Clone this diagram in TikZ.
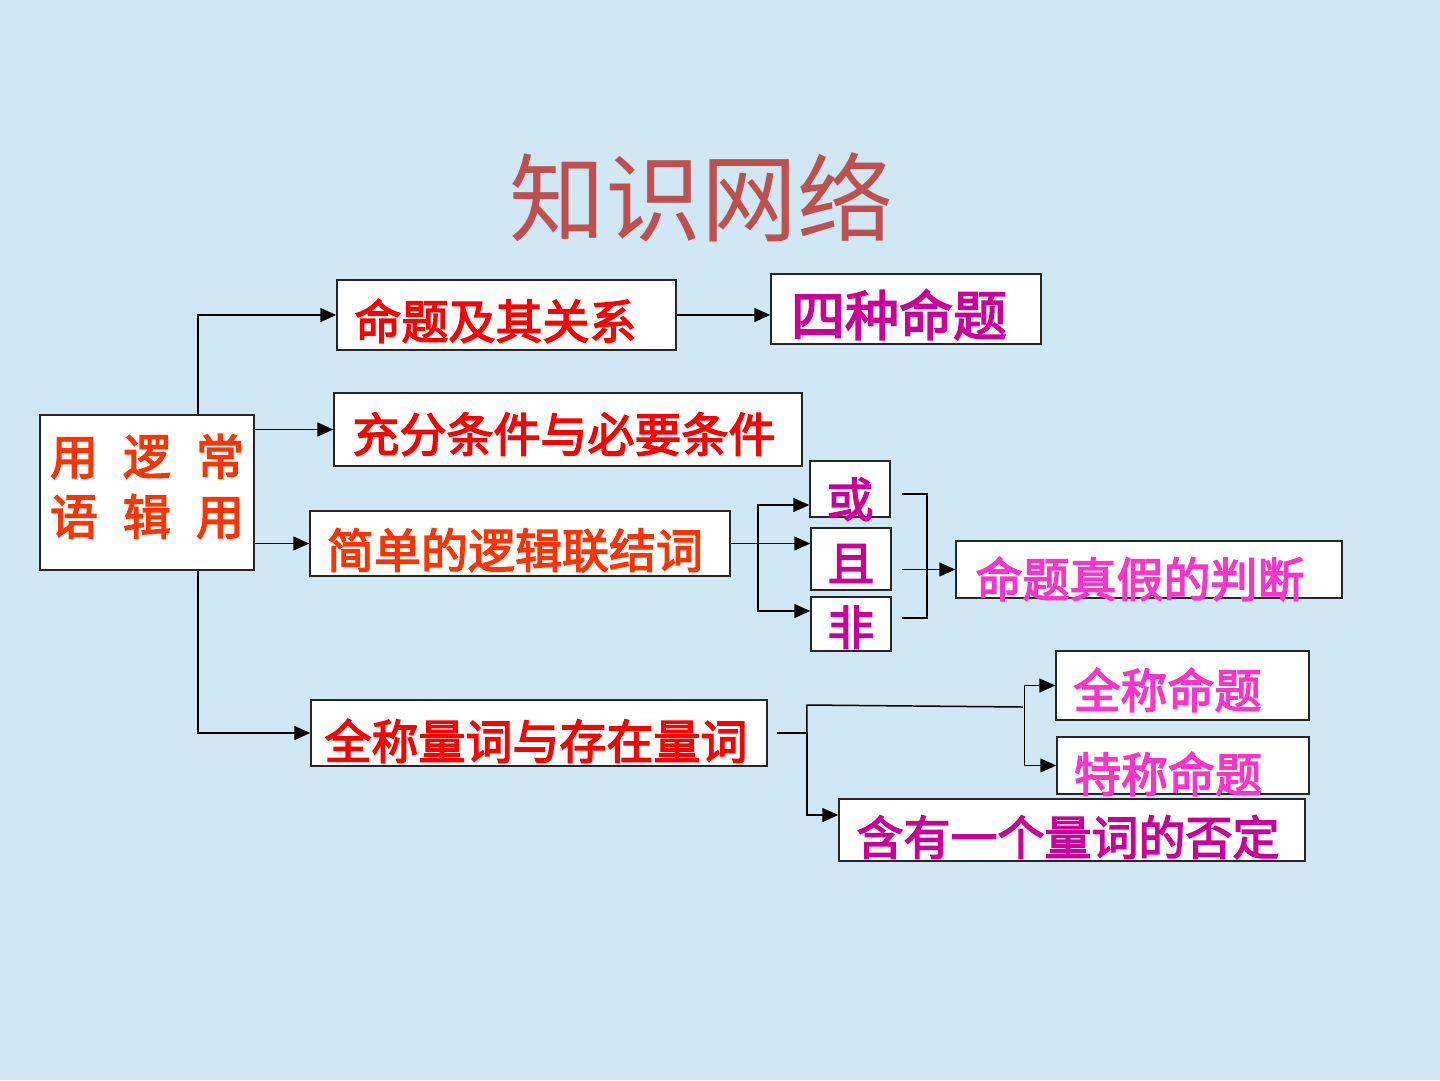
\documentclass[tikz,border=0pt]{standalone}
\usepackage{fontspec}
\newfontfamily\cjk{Noto Sans CJK SC}
\newfontfamily\cjkb[FakeBold=3]{Noto Sans CJK SC}
\usetikzlibrary{arrows.meta}
\definecolor{bgblue}{HTML}{D0E8F5}
\definecolor{titlered}{HTML}{C0504D}
\definecolor{ored}{HTML}{FF3300}
\definecolor{mag}{HTML}{CC0099}
\definecolor{pink}{HTML}{FF33CC}

\begin{document}
\begin{tikzpicture}[x=1pt,y=-1pt,
  box/.style={draw=black!85,fill=white,line width=1.5pt,inner sep=0pt,
    font=\cjkb\fontsize{47}{50}\selectfont},
  tx/.style={text height=#1,text depth=0pt},
  link/.style={line width=1.5pt},
  arr/.style={line width=1.5pt,-{Triangle[length=16pt,width=14pt]}}]
  \fill[bgblue] (0,0) rectangle (1440,1080);
  \useasboundingbox (0,0) rectangle (1440,1080);
  \node[text=titlered,font=\cjk\fontsize{96}{100}\selectfont,tx=73pt] (title) at (701,198) {知识网络};
  \node[box,text=ored,minimum width=214pt,minimum height=155pt] (root) at (147,492.5)
    {\fontsize{48}{60}\selectfont\begin{tabular}{@{}c@{\hspace{25pt}}c@{\hspace{25pt}}c@{}}用&逻&常\\语&辑&用\end{tabular}};
  \node[box,text=red,tx=48pt,minimum width=339pt,minimum height=70pt] (prop) at (506.5,315) {命题及其关系\kern22pt};
  \node[box,text=mag,tx=53pt,minimum width=270pt,minimum height=70pt,
    font=\cjkb\fontsize{54}{56}\selectfont] (four) at (906,309) {四种命题\kern14pt};
  \node[box,text=red,tx=45pt,minimum width=468pt,minimum height=73pt] (suff) at (568,429.5) {充分条件与必要条件\kern8pt};
  \node[box,text=ored,tx=49pt,minimum width=420pt,minimum height=65pt] (conn) at (520,543.5) {简单的逻辑联结词\kern10pt};
  \node[box,text=mag,tx=56pt,minimum width=80pt,minimum height=54pt] (or) at (850,489) {或};
  \node[box,text=mag,tx=44pt,minimum width=80pt,minimum height=62pt] (and) at (851,559) {且};
  \node[box,text=mag,tx=42pt,minimum width=80pt,minimum height=54pt] (not) at (851,624) {非};
  \node[box,text=pink,tx=55pt,minimum width=386pt,minimum height=57pt] (truth) at (1149,569.5) {命题真假的判断\kern18pt};
  \node[box,text=red,tx=52pt,minimum width=456pt,minimum height=66pt] (quant) at (539,733) {全称量词与存在量词\kern6pt};
  \node[box,text=pink,tx=45pt,minimum width=253pt,minimum height=69pt] (univ) at (1182.5,685.5) {全称命题\kern30pt};
  \node[box,text=pink,tx=53pt,minimum width=252pt,minimum height=57pt] (exis) at (1183,765.5) {特称命题\kern30pt};
  \node[box,text=mag,tx=50pt,minimum width=466pt,minimum height=62pt] (neg) at (1072,830) {含有一个量词的否定\kern8pt};

  \draw[arr] ([xshift=51pt]root.north) |- (prop.west);
  \draw[arr] (root.east |- suff.west) -- (suff.west);
  \draw[arr] (root.east |- conn.west) -- (conn.west);
  \draw[arr] ([xshift=51pt]root.south) |- (quant.west);
  \draw[arr] (prop.east) -- (four.west |- prop.east);

  \draw[link] (conn.east) -- ++(27,0) coordinate (fork);
  \draw[arr] (fork) |- ([yshift=-16pt]or.west);
  \draw[arr] (fork) -- (and.west |- fork);
  \draw[arr] (fork) |- ([yshift=13pt]not.west);
  \coordinate (btop) at ([xshift=11pt,yshift=-5pt]or.east);
  \coordinate (bbot) at ([xshift=10pt,yshift=6pt]not.east);
  \path (btop |- truth.west) coordinate (bmid);
  \draw[link] (btop) -- ++(25,0) |- (bbot);
  \draw[arr] (bmid) -- (truth.west);

  \draw[link] ([xshift=9pt]quant.east) -- ++(30,0) coordinate (qfork);
  \draw[link] (qfork) -- ++(0,-28) coordinate (qtop) -- ++(216,2) coordinate (qend);
  \draw[arr] (qfork) |- ([yshift=15pt]neg.west);
  \path (univ.west |- qend) ++(-31,0) coordinate (qv);
  \draw[arr] (qv) |- (univ.west);
  \draw[arr] (qv) |- (exis.west);
\end{tikzpicture}
\end{document}
